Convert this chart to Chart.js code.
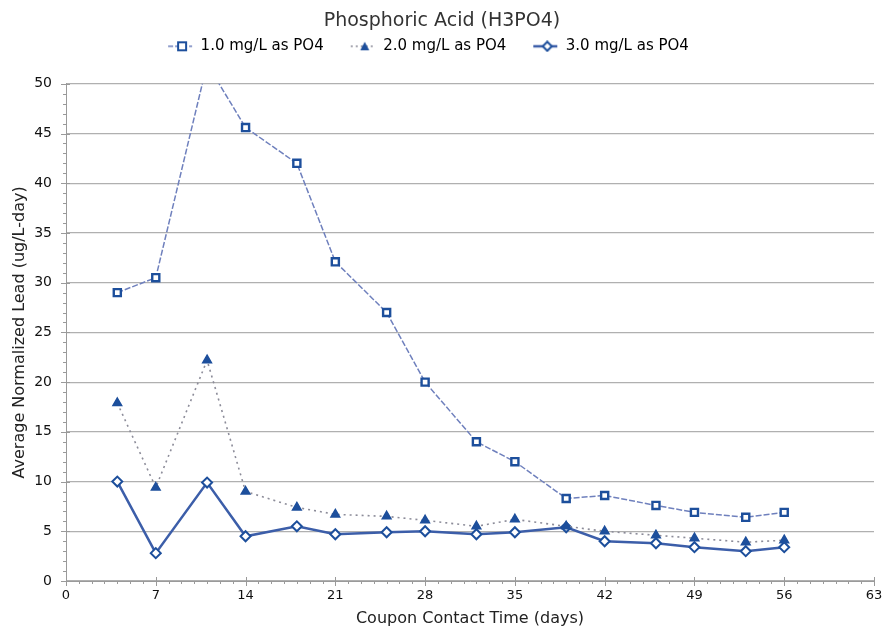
<!DOCTYPE html>
<html>
<head>
<meta charset="utf-8">
<script src="https://cdn.jsdelivr.net/npm/chart.js@4.4.0/dist/chart.umd.min.js"></script>
<style>
  html,body{margin:0;padding:0;background:#fff;}
  #wrap{width:884px;height:639px;}
</style>
</head>
<body>
<div id="wrap"><canvas id="c" width="884" height="639"></canvas></div>
<script>
const days = [4, 7, 11, 14, 18, 21, 25, 28, 32, 35, 39, 42, 46, 49, 53, 56];
const lead1 = [29.0, 30.5, 52.0, 45.6, 42.0, 32.1, 27.0, 20.0, 14.0, 12.0, 8.3, 8.6, 7.6, 6.9, 6.4, 6.9];
const lead2 = [17.9, 9.4, 22.2, 9.0, 7.4, 6.7, 6.5, 6.1, 5.5, 6.2, 5.5, 5.0, 4.6, 4.3, 3.9, 4.1];
const lead3 = [10.0, 2.8, 9.9, 4.5, 5.5, 4.7, 4.9, 5.0, 4.7, 4.9, 5.4, 4.0, 3.8, 3.4, 3.0, 3.4];
const seriesNames = ['1.0 mg/L as PO4', '2.0 mg/L as PO4', '3.0 mg/L as PO4'];
const xTicks = [0, 7, 14, 21, 28, 35, 42, 49, 56, 63];
const yTicks = [0, 5, 10, 15, 20, 25, 30, 35, 40, 45, 50];

const MARK = '#1d4f9c';
const FONT = 'DejaVu Sans';
const pts = a => days.map((d, i) => ({x: d, y: a[i]}));

function legendIcon(lineColor, dash, width, style) {
  const c = document.createElement('canvas');
  c.width = 46; c.height = 12;
  const g = c.getContext('2d');
  const o = 20;
  g.strokeStyle = lineColor; g.lineWidth = width; g.setLineDash(dash);
  g.beginPath(); g.moveTo(o + 1, 6); g.lineTo(o + 25, 6); g.stroke();
  g.setLineDash([]);
  g.lineWidth = 2; g.strokeStyle = MARK; g.fillStyle = MARK;
  if (style === 'rect') { g.fillStyle='#fff'; g.fillRect(o+11,2,8,8); g.strokeRect(o+11,2,8,8); }
  else if (style === 'tri') { g.beginPath(); g.moveTo(o+15,1.5); g.lineTo(o+19.5,10); g.lineTo(o+10.5,10); g.closePath(); g.fill(); }
  else { g.fillStyle='#fff'; g.beginPath(); g.moveTo(o+15,1.5); g.lineTo(o+19.5,6); g.lineTo(o+15,10.5); g.lineTo(o+10.5,6); g.closePath(); g.fill(); g.stroke(); }
  return c;
}
const icons = [
  legendIcon('#6f80bd', [5, 2], 1.5, 'rect'),
  legendIcon('#8c8c99', [2, 3], 1.5, 'tri'),
  legendIcon('#3c5ea9', [], 2.5, 'dia')
];

const legendGap = {
  id: 'legendGap',
  beforeInit(chart) {
    const lg = chart.legend;
    if (lg && !lg._gapPatched) {
      const orig = lg.fit;
      lg.fit = function () { orig.call(this); this.height += 20; };
      lg._gapPatched = true;
    }
  },
  afterLayout(chart) {
    const lg = chart.legend;
    if (lg) { lg.left -= 24; lg.right -= 24; }
  }
};

const minorTicks = {
  id: 'minorTicks',
  afterDraw(chart) {
    const ctx = chart.ctx, xs = chart.scales.x, ys = chart.scales.y;
    const ca = chart.chartArea;
    ctx.save();
    ctx.strokeStyle = '#9a9a9a'; ctx.lineWidth = 1;
    ctx.beginPath();
    for (let d = 0; d <= 63; d++) {
      const px = Math.round(xs.getPixelForValue(d)) + 0.5;
      const major = d % 7 === 0;
      ctx.moveTo(px, ca.bottom - (major ? 4 : 0));
      ctx.lineTo(px, ca.bottom + (major ? 5 : 3));
    }
    for (let v = 0; v <= 50; v++) {
      const py = Math.round(ys.getPixelForValue(v)) + 0.5;
      const major = v % 5 === 0;
      ctx.moveTo(ca.left - (major ? 5 : 3), py);
      ctx.lineTo(ca.left + (major ? 4 : 0), py);
    }
    ctx.stroke();
    ctx.restore();
  }
};

new Chart(document.getElementById('c'), {
  type: 'line',
  data: {
    datasets: [
      {
        label: seriesNames[0], data: pts(lead1),
        borderColor: '#6f80bd', borderWidth: 1.5, borderDash: [6, 2],
        pointStyle: 'rect', pointRadius: 5, pointBorderWidth: 2.4,
        pointBorderColor: MARK, pointBackgroundColor: '#fff', tension: 0
      },
      {
        label: seriesNames[1], data: pts(lead2),
        borderColor: '#8c8c99', borderWidth: 1.6, borderDash: [2, 4],
        pointStyle: 'triangle', pointRadius: 5, pointBorderWidth: 1.5,
        pointBorderColor: MARK, pointBackgroundColor: MARK, tension: 0
      },
      {
        label: seriesNames[2], data: pts(lead3),
        borderColor: '#3c5ea9', borderWidth: 2.5,
        pointStyle: 'rectRot', pointRadius: 5, pointBorderWidth: 2,
        pointBorderColor: MARK, pointBackgroundColor: '#fff', tension: 0
      }
    ]
  },
  options: {
    responsive: false,
    animation: false,
    devicePixelRatio: 1,
    layout: { padding: { left: 0, right: 0, top: 0, bottom: 0 } },
    plugins: {
      title: {
        display: true, text: 'Phosphoric Acid (H3PO4)', color: '#333',
        font: { family: FONT, size: 19, weight: 'normal' }, padding: { top: 10, bottom: 0 }
      },
      legend: {
        display: true,
        labels: {
          color: '#222', font: { family: FONT, size: 15 },
          usePointStyle: true, pointStyleWidth: 46, boxHeight: 12, padding: 6,
          generateLabels(chart) {
            return chart.data.datasets.map((ds, i) => ({
              text: ds.label, pointStyle: icons[i], datasetIndex: i,
              fillStyle: '#fff', strokeStyle: '#fff', lineWidth: 0, hidden: false
            }));
          }
        }
      },
      tooltip: { enabled: false }
    },
    scales: {
      x: {
        type: 'linear', min: 0, max: 63,
        afterBuildTicks(s) { s.ticks = xTicks.map(v => ({value: v})); },
        afterFit(s) { s.height = 58; s.paddingRight = 10; s.paddingLeft = 0; },
        grid: { display: true, drawOnChartArea: false, drawTicks: false, color: '#9a9a9a' },
        border: { display: true, color: '#9a9a9a', width: 1 },
        ticks: { color: '#111', font: { family: FONT, size: 13 }, padding: 7, maxRotation: 0 },
        title: { display: true, text: 'Coupon Contact Time (days)', color: '#222',
          font: { family: FONT, size: 16 }, padding: { top: 0, bottom: 11 } }
      },
      y: {
        min: 0, max: 50,
        afterBuildTicks(s) { s.ticks = yTicks.map(v => ({value: v})); },
        afterFit(s) { s.width = 66; },
        grid: { color: '#b0b0b0', lineWidth: 1.2, drawTicks: false },
        border: { display: true, color: '#9a9a9a', width: 1 },
        ticks: { color: '#111', font: { family: FONT, size: 14 }, padding: 14 },
        title: { display: true, text: 'Average Normalized Lead (ug/L-day)', color: '#222',
          font: { family: FONT, size: 16 }, padding: { top: 10, bottom: 0 } }
      }
    }
  },
  plugins: [legendGap, minorTicks]
});
</script>
</body>
</html>
